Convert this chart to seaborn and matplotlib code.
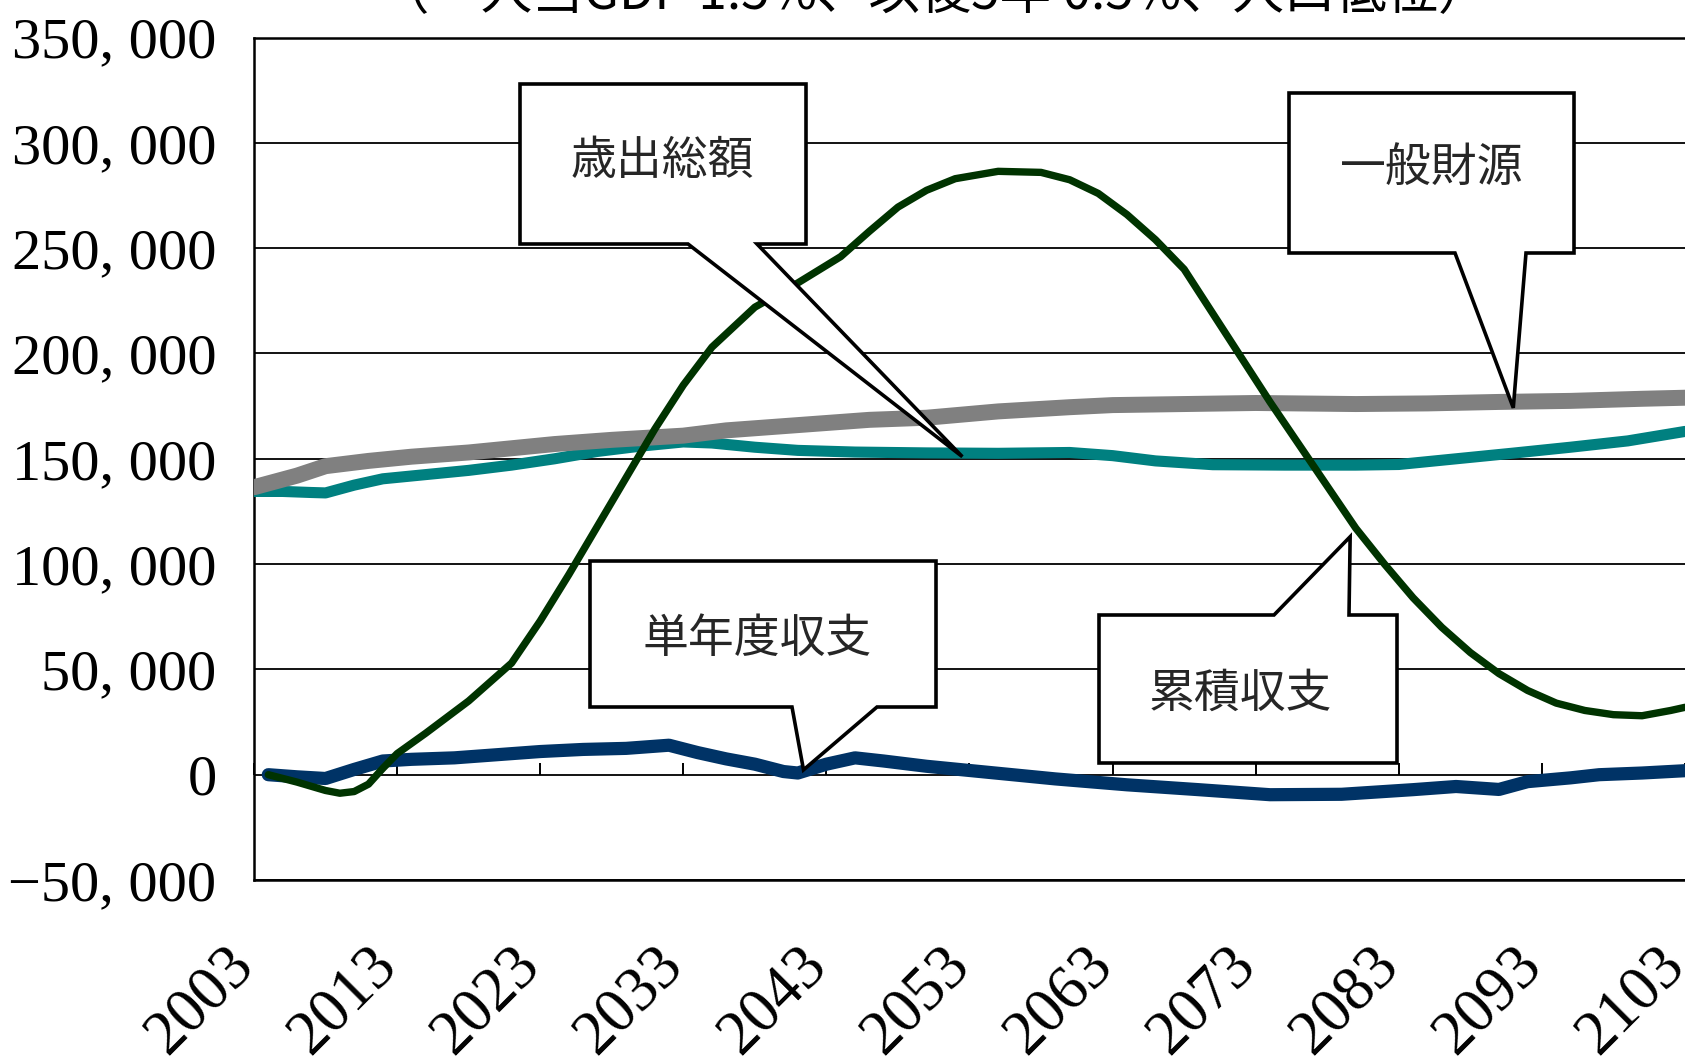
import matplotlib
matplotlib.use("Agg")
import matplotlib.pyplot as plt
from matplotlib.patches import Polygon
from matplotlib.transforms import ScaledTranslation
import seaborn as sns

# ---- data (unit: 億円) ----
general_years = [2003, 2006, 2008, 2011, 2014, 2018, 2021, 2024, 2028, 2033, 2036, 2040,
                 2043, 2046, 2050, 2055, 2060, 2063, 2068, 2073, 2080, 2085, 2090, 2095,
                 2100, 2103]
general_revenue = [136500, 142000, 146500, 149000, 151000, 153000, 155000, 157000, 159000,
                   161000, 163500, 165500, 167000, 168500, 169500, 172500, 174500, 175500,
                   176000, 176500, 176000, 176300, 177000, 177500, 178500, 179000]

spend_years = [2003, 2005, 2007, 2008, 2010, 2012, 2015, 2018, 2021, 2024, 2027, 2030,
               2033, 2035, 2038, 2041, 2045, 2050, 2055, 2060, 2063, 2066, 2070, 2075,
               2080, 2083, 2087, 2091, 2095, 2099, 2103]
total_spending = [134500, 134500, 134000, 133800, 137500, 140500, 142500, 144500, 147000,
                  150000, 153500, 156000, 158000, 157500, 155500, 154000, 153200, 152800,
                  152600, 153000, 151500, 149000, 147200, 147000, 147000, 147300, 150000,
                  152700, 155500, 158500, 163000]

annual_years = [2004, 2006, 2008, 2010, 2012, 2014, 2017, 2020, 2023, 2026, 2029, 2032,
                2034, 2036, 2038, 2040, 2041, 2043, 2045, 2047, 2050, 2053, 2056, 2059,
                2064, 2069, 2074, 2079, 2084, 2087, 2090, 2092, 2095, 2097, 2100, 2103]
annual_balance = [0, -1000, -1800, 2500, 6500, 7300, 8000, 9500, 11000, 12000, 12500, 14000,
                  10500, 7500, 5000, 1500, 800, 5000, 8000, 6500, 4000, 2000, 0, -2000,
                  -4800, -7100, -9500, -9300, -7100, -5600, -7000, -3300, -1500, 0, 800, 1900]

cum_years = [2004, 2006, 2008, 2009, 2010, 2011, 2012, 2013, 2015, 2018, 2021, 2023, 2025,
             2027, 2029, 2031, 2033, 2035, 2038, 2041, 2044, 2046, 2048, 2050, 2052, 2055,
             2058, 2060, 2062, 2064, 2066, 2068, 2070, 2072, 2074, 2076, 2078, 2080, 2082,
             2084, 2086, 2088, 2090, 2092, 2094, 2096, 2098, 2100, 2102, 2103]
cumulative_balance = [0, -3500, -7500, -8800, -8000, -4500, 3000, 10000, 19700, 35000, 53000,
                      73000, 95000, 118000, 141000, 164000, 185000, 203000, 222000, 233500,
                      246000, 258000, 269500, 277500, 283000, 286500, 286000, 282500, 276000,
                      266000, 254000, 240000, 219000, 198000, 177000, 157000, 137000, 117000,
                      100000, 84000, 70000, 58000, 48000, 40000, 34000, 30500, 28500, 28000,
                      30500, 32000]

x_tick_years = list(range(2003, 2104, 10))
y_ticks = list(range(-50000, 350001, 50000))

title = "（一人当GDP 1.5%、以後5年 0.5%、人口低位）"
callout_specs = [
    # text, box (L, T, R, B in figure px), wedge base x's, wedge side, tip (year, value), text centre
    ("歳出総額", (520, 84, 806, 244), (688, 757), "bottom", (2052.5, 151000), (662, 161)),
    ("一般財源", (1289, 93, 1574, 253), (1455, 1526), "bottom", (2091.0, 174200), (1432, 168)),
    ("単年度収支", (590, 561, 936, 707), (792, 877), "bottom", (2041.4, 2300), (757, 639)),
    ("累積収支", (1099, 615, 1397, 763), (1274, 1349), "top", (2079.6, 113000), (1240, 693)),
]

# ---- style ----
sns.set_theme(style="white")
plt.rcParams["font.family"] = ["Liberation Serif", "Noto Sans CJK JP", "DejaVu Sans"]
CJK = ["Noto Sans CJK JP", "DejaVu Sans"]

W, H = 1685, 1064
fig = plt.figure(figsize=(W / 100, H / 100), dpi=100, facecolor="white")
ax = fig.add_axes([254 / W, 1 - 880 / H, (W - 254) / W, (880 - 37.6) / H])
ax.set_facecolor("white")

series = [
    (spend_years, total_spending, "#008080", 8),
    (general_years, general_revenue, "#808080", 11.5),
    (annual_years, annual_balance, "#003366", 9.5),
    (cum_years, cumulative_balance, "#003300", 5.3),
]
for xs, ys, col, lw in series:
    sns.lineplot(x=xs, y=ys, ax=ax, color=col, linewidth=lw, estimator=None,
                 sort=False, solid_capstyle="round", solid_joinstyle="round", zorder=3)

ax.set_xlim(2003, 2103)
ax.set_ylim(-50000, 350000)

# horizontal gridlines
ax.set_yticks(y_ticks)
ax.set_yticklabels([f"{v:,}".replace(",", ", ").replace("-", "−") for v in y_ticks])
ax.yaxis.grid(True, color="black", linewidth=1.3)
ax.xaxis.grid(False)
ax.set_axisbelow(True)
ax.tick_params(axis="y", length=0, pad=27, labelsize=42, colors="black")

# category labels under the plot area
ax.set_xticks(x_tick_years)
ax.set_xticklabels([str(y) for y in x_tick_years], rotation=45, ha="right", va="center",
                   rotation_mode="anchor")
ax.tick_params(axis="x", length=0, pad=55, labelsize=45, colors="black")
for lab in ax.get_xticklabels():
    lab.set_transform(lab.get_transform() + ScaledTranslation(-0.09, 0, fig.dpi_scale_trans))

# tick marks on the zero line
ax.plot(x_tick_years, [0] * len(x_tick_years), ls="none", marker=2, ms=9, mew=1.4,
        color="black", zorder=2, clip_on=False)

for side in ["top", "bottom", "left"]:
    ax.spines[side].set_color("black")
    ax.spines[side].set_linewidth(1.8)
ax.spines["right"].set_visible(False)

ax.set_xlabel("")
ax.set_ylabel("")
if ax.get_legend():
    ax.get_legend().remove()

# title (runs off the top edge)
fig.text(934 / W, 1 - 9 / H, title, ha="center", va="baseline", fontsize=37,
         family=CJK, color="black")


def to_fig(x, y):
    return (x / W, 1 - y / H)


for text, (L, T, R, B), (b1, b2), side, tip, (tx, ty) in callout_specs:
    px, py = ax.transData.transform(tip)
    tip_px = (px, H - py)
    if side == "bottom":
        verts = [(L, T), (R, T), (R, B), (b2, B), tip_px, (b1, B), (L, B)]
    else:
        verts = [(L, T), (b1, T), tip_px, (b2, T), (R, T), (R, B), (L, B)]
    poly = Polygon([to_fig(*v) for v in verts], closed=True, transform=fig.transFigure,
                   facecolor="white", edgecolor="black", linewidth=2.6, joinstyle="miter",
                   zorder=10, clip_on=False)
    ax.add_patch(poly)
    fx, fy = to_fig(tx, ty)
    ax.text(fx, fy, text, transform=fig.transFigure, ha="center", va="center",
            fontsize=33, family=CJK, color="#262626", zorder=11)

fig.savefig("out.png", dpi=100, facecolor="white")
